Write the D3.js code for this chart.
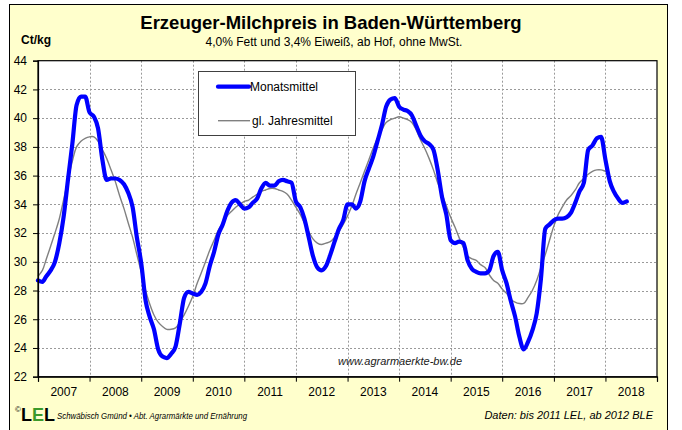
<!DOCTYPE html>
<html>
<head>
<meta charset="utf-8">
<script src="https://cdn.jsdelivr.net/npm/d3@7"></script>
<style>
  html, body { margin: 0; padding: 0; background: #fff; }
  svg { display: block; }
  text { font-family: "Liberation Sans", Arial, sans-serif; }
</style>
</head>
<body>
<svg id="chart" width="682" height="430"></svg>
<script>
// ---- data (Ct/kg), monthly from Jan 2007 ----
const startYear = 2007;
const monatsmittel = [
  28.7, 28.6, 29.0, 29.4, 30.0, 31.3, 33.1, 35.7, 38.2, 40.9, 41.5, 41.5, // 2007
  40.4, 40.1, 39.3, 37.1, 35.7, 35.8, 35.8, 35.7, 35.4, 34.8, 33.8, 31.7, // 2008
  29.9, 27.3, 26.2, 25.3, 23.9, 23.4, 23.3, 23.6, 24.1, 25.7, 27.5, 27.9, // 2009
  27.8, 27.7, 27.9, 28.5, 29.7, 30.7, 31.9, 32.6, 33.5, 34.1, 34.3, 34.0, // 2010
  33.7, 33.8, 34.1, 34.4, 35.1, 35.5, 35.3, 35.3, 35.6, 35.7, 35.6, 35.5, // 2011
  34.2, 33.8, 33.0, 31.7, 30.4, 29.6, 29.4, 29.7, 30.5, 31.4, 32.3, 32.9, // 2012
  34.0, 34.0, 33.7, 34.2, 35.6, 36.5, 37.3, 38.4, 39.5, 40.8, 41.3, 41.4, // 2013
  40.8, 40.6, 40.5, 40.2, 39.5, 38.8, 38.4, 38.2, 37.8, 36.4, 34.5, 33.3, // 2014
  31.5, 31.3, 31.4, 31.3, 30.1, 29.5, 29.3, 29.2, 29.2, 29.4, 30.4, 30.7, // 2015
  29.4, 28.5, 27.3, 26.2, 24.8, 23.9, 24.4, 25.2, 26.4, 28.8, 32.3, 32.6, // 2016
  32.9, 33.0, 33.0, 33.1, 33.4, 34.1, 34.9, 35.5, 37.8, 38.1, 38.6, 38.7, // 2017
  37.1, 35.6, 34.9, 34.4, 34.1, 34.2                                      // 2018
];
const jahresmittel = [
  29.0, 29.4, 30.2, 31.1, 32.0, 33.0, 34.3, 35.7, 37.0, 38.0, 38.4, 38.6, // 2007
  38.7, 38.7, 38.4, 37.8, 37.2, 36.4, 35.6, 34.6, 33.7, 32.7, 31.7, 30.5, // 2008
  29.3, 28.0, 27.1, 26.3, 25.8, 25.5, 25.3, 25.3, 25.4, 25.8, 26.3, 26.9, // 2009
  27.6, 28.5, 29.2, 30.0, 30.8, 31.5, 32.2, 32.7, 33.2, 33.5, 33.8, 34.0, // 2010
  34.2, 34.3, 34.5, 34.7, 34.9, 35.0, 35.1, 35.1, 35.0, 34.9, 34.7, 34.3, // 2011
  33.8, 33.3, 32.7, 32.1, 31.6, 31.3, 31.2, 31.3, 31.4, 31.7, 32.1, 32.6, // 2012
  33.2, 33.9, 34.7, 35.5, 36.3, 37.1, 37.9, 38.6, 39.2, 39.7, 39.9, 40.0, // 2013
  40.1, 40.0, 39.9, 39.7, 39.2, 38.5, 37.9, 37.2, 36.4, 35.5, 34.7, 33.9, // 2014
  33.1, 32.4, 31.7, 31.0, 30.4, 30.2, 30.1, 29.8, 29.6, 29.1, 28.7, 28.5, // 2015
  28.1, 27.8, 27.4, 27.2, 27.1, 27.1, 27.5, 28.0, 28.7, 29.6, 30.5, 31.5, // 2016
  32.5, 33.3, 33.8, 34.3, 34.6, 35.0, 35.5, 35.8, 36.1, 36.3, 36.4, 36.4, // 2017
  36.3, 36.2                                                              // 2018
];
const yearLabels = ["2007","2008","2009","2010","2011","2012","2013","2014","2015","2016","2017","2018"];
const yTicks = [22, 24, 26, 28, 30, 32, 34, 36, 38, 40, 42, 44];
const seriesNames = ["Monatsmittel", "gl. Jahresmittel"];

// ---- layout ----
const W = 682, H = 430;
const plot = { left: 38, right: 657, top: 60.7, bottom: 376.7 };
const font = '"Liberation Sans", Arial, sans-serif';

const svg = d3.select("#chart");

// outer frame
svg.append("rect").attr("x", 9.5).attr("y", 4.5).attr("width", 658).attr("height", 440)
  .attr("fill", "#FFFFCC").attr("stroke", "#000").attr("stroke-width", 1);

const x = d3.scaleTime()
  .domain([new Date(startYear, 0, 1), new Date(startYear + yearLabels.length, 0, 1)])
  .range([plot.left, plot.right]);
const y = d3.scaleLinear().domain([22, 44]).range([plot.bottom, plot.top]);

const dateOf = i => new Date(startYear, i, 1);

// plot background
svg.append("rect")
  .attr("x", plot.left).attr("y", plot.top)
  .attr("width", plot.right - plot.left).attr("height", plot.bottom - plot.top)
  .attr("fill", "#fff");

// grid
const yearStarts = yearLabels.map((d, k) => new Date(startYear + k, 0, 1)).concat([new Date(startYear + yearLabels.length, 0, 1)]);
svg.append("g").selectAll("line.gx")
  .data(yearStarts.slice(1, -1)).join("line")
  .attr("x1", d => Math.round(x(d)) + 0.5).attr("x2", d => Math.round(x(d)) + 0.5)
  .attr("y1", plot.top).attr("y2", plot.bottom)
  .attr("stroke", "#9a9a9a").attr("stroke-width", 1).attr("stroke-dasharray", "2,2");
svg.append("g").selectAll("line.gy")
  .data(yTicks.filter(v => v > 22 && v < 44)).join("line")
  .attr("x1", plot.left).attr("x2", plot.right)
  .attr("y1", d => Math.round(y(d)) + 0.5).attr("y2", d => Math.round(y(d)) + 0.5)
  .attr("stroke", "#9a9a9a").attr("stroke-width", 1).attr("stroke-dasharray", "2,2");

// lines
const blueLine = d3.line()
  .x((d, i) => x(dateOf(i))).y(d => y(d))
  .curve(d3.curveMonotoneX);
const grayLine = d3.line()
  .x((d, i) => x(dateOf(i))).y(d => y(d))
  .curve(d3.curveCatmullRom.alpha(0.5));

svg.append("path").datum(jahresmittel)
  .attr("d", grayLine).attr("fill", "none")
  .attr("stroke", "#808080").attr("stroke-width", 1.4);
svg.append("path").datum(monatsmittel)
  .attr("d", blueLine).attr("fill", "none")
  .attr("stroke", "#0000FF").attr("stroke-width", 4.2)
  .attr("stroke-linejoin", "round").attr("stroke-linecap", "round");

// plot border
svg.append("rect")
  .attr("x", plot.left).attr("y", plot.top)
  .attr("width", plot.right - plot.left).attr("height", plot.bottom - plot.top)
  .attr("fill", "none").attr("stroke", "#000").attr("stroke-width", 1.2);

// y axis
const yAxis = d3.axisLeft(y).tickValues(yTicks).tickSize(5).tickPadding(6).tickFormat(d3.format("d"));
const gy = svg.append("g").attr("transform", `translate(${plot.left},0)`).call(yAxis);
gy.select(".domain").attr("stroke", "#000").attr("stroke-width", 1.2);
gy.selectAll(".tick line").attr("stroke", "#000");
gy.selectAll(".tick text").attr("font-size", 12).attr("font-family", font).attr("fill", "#000");

// x axis: ticks at year boundaries, labels centred in each year
const xAxis = d3.axisBottom(x).tickValues(yearStarts).tickSize(5).tickFormat("");
const gx = svg.append("g").attr("transform", `translate(0,${plot.bottom})`).call(xAxis);
gx.select(".domain").attr("stroke", "#000").attr("stroke-width", 1.2);
gx.selectAll(".tick line").attr("stroke", "#000");
svg.append("g").selectAll("text")
  .data(yearLabels).join("text")
  .attr("x", (d, k) => (x(yearStarts[k]) + x(yearStarts[k + 1])) / 2)
  .attr("y", 396)
  .attr("text-anchor", "middle").attr("font-size", 12).attr("fill", "#000")
  .text(d => d);

// titles
svg.append("text").attr("x", 331).attr("y", 29).attr("text-anchor", "middle")
  .attr("font-size", 18.5).attr("font-weight", "bold").text("Erzeuger-Milchpreis in Baden-Württemberg");
svg.append("text").attr("x", 334).attr("y", 46).attr("text-anchor", "middle")
  .attr("font-size", 12).text("4,0% Fett und 3,4% Eiweiß, ab Hof, ohne MwSt.");
svg.append("text").attr("x", 21).attr("y", 44)
  .attr("font-size", 12).attr("font-weight", "bold").text("Ct/kg");

// legend
const lg = svg.append("g");
lg.append("rect").attr("x", 198.5).attr("y", 71.5).attr("width", 157).attr("height", 64)
  .attr("fill", "#fff").attr("stroke", "#404040").attr("stroke-width", 1);
lg.append("line").attr("x1", 218).attr("x2", 249).attr("y1", 86.7).attr("y2", 86.7)
  .attr("stroke", "#0000FF").attr("stroke-width", 4.2).attr("stroke-linecap", "round");
lg.append("text").attr("x", 250).attr("y", 91).attr("font-size", 12).text(seriesNames[0]);
lg.append("line").attr("x1", 218).attr("x2", 250).attr("y1", 120.7).attr("y2", 120.7)
  .attr("stroke", "#808080").attr("stroke-width", 1.4);
lg.append("text").attr("x", 252).attr("y", 125).attr("font-size", 12).text(seriesNames[1]);

// watermark
svg.append("text").attr("x", 338).attr("y", 365).attr("font-size", 11).attr("font-style", "italic")
  .attr("fill", "#202020").text("www.agrarmaerkte-bw.de");

// footer
svg.append("text").attr("x", 15).attr("y", 412).attr("font-size", 8).text("©");
const logo = svg.append("text").attr("x", 21).attr("y", 421).attr("font-size", 18).attr("font-weight", "bold");
logo.append("tspan").attr("fill", "#000").text("L");
logo.append("tspan").attr("fill", "#3a9a2a").text("E");
logo.append("tspan").attr("fill", "#000").text("L");
svg.append("text").attr("x", 57).attr("y", 419).attr("font-size", 9).attr("font-style", "italic")
  .attr("textLength", 190).attr("lengthAdjust", "spacingAndGlyphs")
  .text("Schwäbisch Gmünd • Abt. Agrarmärkte und Ernährung");
svg.append("text").attr("x", 653).attr("y", 419).attr("font-size", 11).attr("font-style", "italic")
  .attr("text-anchor", "end")
  .text("Daten: bis 2011 LEL, ab 2012 BLE");
</script>
</body>
</html>
